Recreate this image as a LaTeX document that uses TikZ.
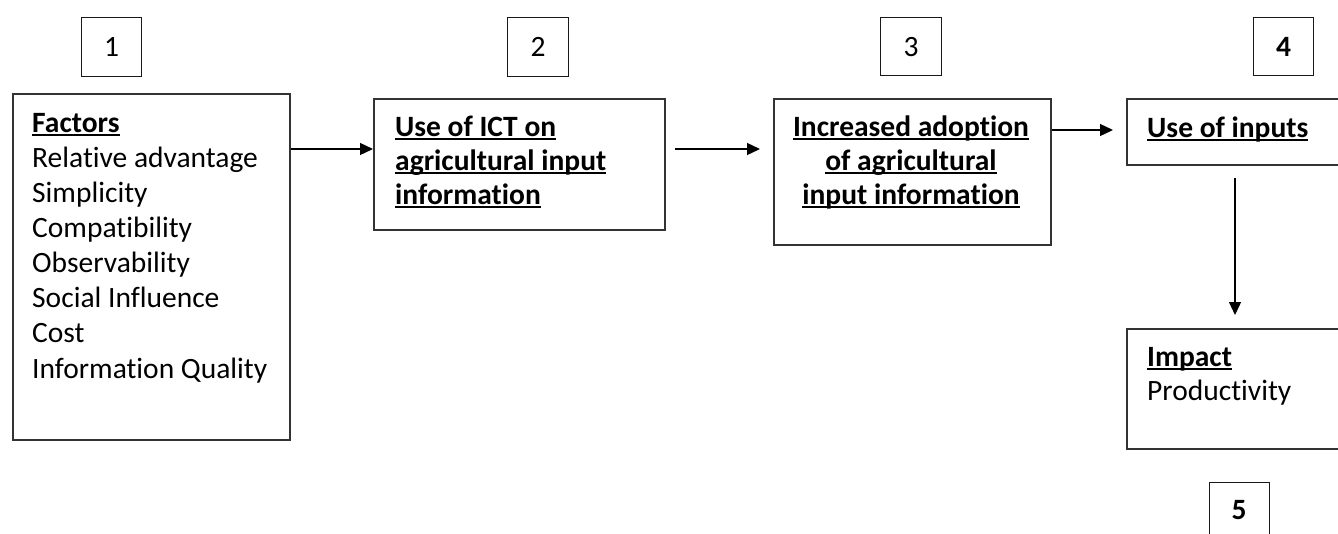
\documentclass[tikz,border=0pt]{standalone}
\usepackage{fontspec}
\setmainfont{Carlito}[Ligatures=NoCommon]
\usetikzlibrary{arrows.meta}
% underline at a fixed depth below the baseline
\newcommand\ulx[1]{\setbox0=\hbox{#1}\rlap{\rule[-4pt]{\wd0}{2pt}}\box0}

\begin{document}
\begin{tikzpicture}[x=1pt,y=-1pt,
  frame/.style={draw=black!80, line width=1.5pt, inner sep=0pt, anchor=north west},
  numbox/.style={draw=black!90, line width=1.4pt, inner sep=0pt, anchor=north west,
    font=\fontsize{29.5}{34}\selectfont},
  txt/.style={font=\fontsize{29.5}{34}\selectfont, inner sep=0pt, align=left, anchor=base west},
  link/.style={line width=1.3pt, -{Triangle[length=13pt,width=12pt]}},
]
\useasboundingbox (0,0) rectangle (1338,533);
\clip (0,0) rectangle (1338,533);

% numbered tags
\node[numbox, minimum width=60pt, minimum height=59pt] (n1) at (81,17) {1};
\node[numbox, minimum width=61pt, minimum height=59pt] (n2) at (507,17) {2};
\node[numbox, minimum width=61pt, minimum height=58pt] (n3) at (880,17) {3};
\node[numbox, minimum width=60pt, minimum height=58pt] (n4) at (1253,17) {\textbf{4}};
\node[numbox, minimum width=60pt, minimum height=80pt] (n5) at (1209,482) {};
\node[font=\fontsize{29.5}{34}\selectfont, inner sep=0pt] (n5t) at (1239,510) {\textbf{5}};

% main boxes
\node[frame, minimum width=277pt, minimum height=346pt] (fac) at (12,93) {};
\node[frame, minimum width=291pt, minimum height=131pt] (ict) at (373,98) {};
\node[frame, minimum width=277pt, minimum height=146pt] (adopt) at (773,98) {};
\node[frame, minimum width=250pt, minimum height=66pt] (inputs) at (1126,98) {};
\node[frame, minimum width=250pt, minimum height=120pt] (impact) at (1126,328) {};

% box texts (anchored at the baseline of their last line)
\node[txt, font=\fontsize{29.5}{35.1}\selectfont] (factxt) at (32,378) {\ulx{\textbf{Factors}}\\Relative advantage\\Simplicity\\Compatibility\\Observability\\Social Influence\\Cost\\Information Quality};
\node[txt] (icttxt) at (395,204) {\ulx{\textbf{Use of ICT on}}\\\ulx{\textbf{agricultural input}}\\\ulx{\textbf{information}}};
\node[txt, align=center, anchor=base] (adopttxt) at (911,204) {\ulx{\textbf{Increased adoption}}\\\ulx{\textbf{of agricultural}}\\\ulx{\textbf{input information}}};
\node[txt] (inputstxt) at (1147,137) {\ulx{\textbf{Use of inputs}}};
\node[txt] (impacttxt) at (1147,400) {\ulx{\textbf{Impact}}\\Productivity};

% connectors
\coordinate (a2s) at (675,149);
\coordinate (a2e) at (760,149);
\coordinate (a3e) at (1113,130);
\coordinate (a4s) at (1235,178);
\coordinate (a4e) at (1235,315);
\draw[link] ([yshift=-56pt]fac.north east) -- ([yshift=-51pt]ict.north west);
\draw[link] (a2s) -- (a2e);
\draw[link] ([yshift=-32pt]adopt.north east) -- (a3e);
\draw[link] (a4s) -- (a4e);
\end{tikzpicture}
\end{document}
